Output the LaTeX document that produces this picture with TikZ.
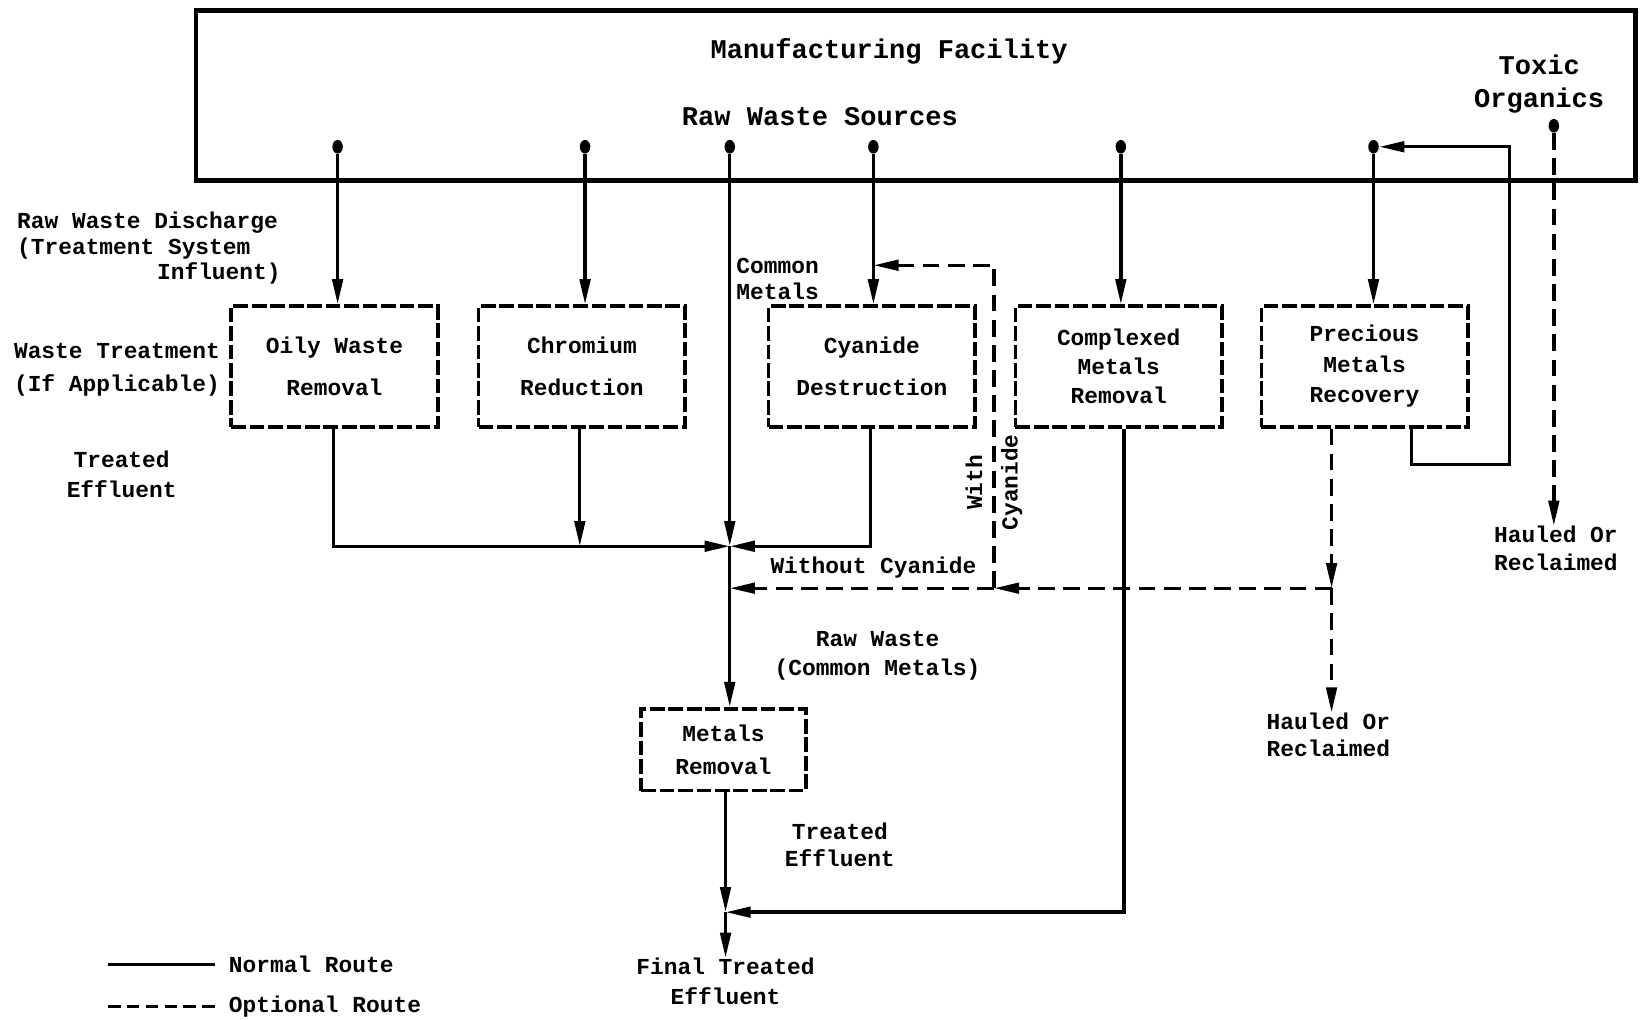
\documentclass[tikz,border=0pt]{standalone}
\usepackage{fontspec}
\setmainfont{Liberation Mono}
\usetikzlibrary{arrows.meta}
\newcommand\myfs[1]{\fontsize{10.9}{#1}\selectfont\bfseries}
\newcommand\mybig[1]{\fontsize{12.9}{#1}\selectfont\bfseries}
\tikzset{
  lw/.style={line width=1.6pt},
  tipped/.style={-{Triangle[length=12pt,width=5pt]}},
  normalroute/.style={lw, tipped},
  optroute/.style={lw, dash pattern=on 8pt off 4pt, tipped},
  procbox/.style={draw, line width=1.7pt, dash pattern=on 7pt off 1.8pt,
    minimum width=98.5pt, minimum height=57.5pt, align=center, inner sep=0pt},
  lbl/.style={inner sep=0pt, align=center, font=\myfs{13}},
  biglbl/.style={inner sep=0pt, align=center, font=\mybig{16}},
  srcdot/.style={ellipse, fill, inner sep=0pt, minimum width=5pt, minimum height=6.5pt},
}
\usetikzlibrary{shapes.geometric}
\begin{document}
\begin{tikzpicture}[x=0.5pt,y=-0.5pt]
\useasboundingbox (0,0) rectangle (1568,972);

% facility
\node[draw, line width=2.2pt, minimum width=686.5pt, minimum height=81pt, inner sep=0pt] (facility) at (873.5,91) {};
\node[biglbl] (mf) at (848,49) {Manufacturing Facility};
\node[biglbl] (rws) at (782,111) {Raw Waste Sources};
\node[biglbl, font=\mybig{16}] (tox) at (1468,80) {Toxic\\Organics};

% source dots
\node[srcdot] (d1) at (322,140) {};
\node[srcdot] (d2) at (558,140) {};
\node[srcdot] (d3) at (696,140) {};
\node[srcdot] (d4) at (833,140) {};
\node[srcdot] (d5) at (1069,140) {};
\node[srcdot] (d6) at (1310,140) {};
\node[srcdot] (d7) at (1482,120) {};

% boxes
\node[procbox, font=\myfs{20}] (oily) at (319,349.5) {Oily Waste\\Removal};
\node[procbox, font=\myfs{20}] (chrom) at (555,349.5) {Chromium\\Reduction};
\node[procbox, font=\myfs{20}] (cyan) at (831.5,349.5) {Cyanide\\Destruction};
\node[procbox, font=\myfs{14}] (cplx) at (1067,349.5) {Complexed\\Metals\\Removal};
\node[procbox, font=\myfs{14.5}] (prec) at (1301.5,349.5) {Precious\\Metals\\Recovery};
\node[procbox, font=\myfs{15.5}, minimum width=78.5pt, minimum height=39pt] (metals) at (690,715) {Metals\\Removal};

% side labels
\node[lbl, anchor=west] (rwd1) at (16,212) {Raw Waste Discharge};
\node[lbl, anchor=west] (rwd2) at (16,237) {(Treatment System};
\node[lbl, anchor=east] (rwd3) at (268,261) {Influent)};
\node[lbl, anchor=west, align=left, font=\myfs{15.5}] (wt) at (13,352.5) {Waste Treatment\\(If Applicable)};
\node[lbl, font=\myfs{14.5}] (te1) at (116,452.5) {Treated\\Effluent};
\node[lbl, anchor=west, align=left, font=\myfs{12}] (cm) at (702,266) {Common\\Metals};
\node[lbl] (woc) at (833,541) {Without Cyanide};
\node[lbl, rotate=90, font=\myfs{17}] (wc) at (948,460) {With\\Cyanide};
\node[lbl, font=\myfs{13.5}] (rwcm) at (837,625.5) {Raw Waste\\(Common Metals)};
\node[lbl, font=\myfs{13}] (te2) at (801,806) {Treated\\Effluent};
\node[lbl, font=\myfs{14}] (final) at (692,936) {Final Treated\\Effluent};
\node[lbl, font=\myfs{13}] (haul1) at (1267,701) {Hauled Or\\Reclaimed};
\node[lbl, font=\myfs{13}] (haul2) at (1484,523) {Hauled Or\\Reclaimed};

% junction coordinates
\coordinate (j1) at (696,521);
\coordinate (j2) at (696,561);
\coordinate (j3) at (692,870);
\coordinate (o1) at (318,521);
\coordinate (c1) at (553,521);
\coordinate (cy1) at (830,521);
\coordinate (cx1) at (1072,870);
\coordinate (p1) at (1270,561);
\coordinate (w1) at (948,561);
\coordinate (w2) at (948,253);
\coordinate (r1) at (1346,443);
\coordinate (r2) at (1440,443);

% source lines
\draw[normalroute] (d1) -- (d1 |- oily.north);
\draw[normalroute] (d2) -- (d2 |- chrom.north);
\draw[normalroute] (d4) -- (d4 |- cyan.north);
\draw[normalroute] (d5) -- (d5 |- cplx.north);
\draw[normalroute] (d6) -- (d6 |- prec.north);
\draw[normalroute] (d3) -- (j1);
\draw[lw] (j1) -- (j2);
\draw[normalroute] (j2) -- (j2 |- metals.north);

% treated effluent collection
\draw[normalroute] (oily.south -| o1) |- (j1);
\draw[normalroute] (chrom.south -| c1) -- (c1);
\draw[normalroute] (cyan.south -| cy1) |- (j1);

% complexed return
\draw[normalroute] (cplx.south -| cx1) |- (j3);
\draw[normalroute] (metals.south -| j3) -- (j3);
\draw[normalroute] (j3) -- (j3 |- final.north);

% precious
\draw[optroute] (prec.south -| p1) -- (p1);
\draw[optroute] (p1) -- (p1 |- haul1.north);
\draw[optroute] (p1) -- (w1);
\draw[optroute] (w1) -- (j2);
\draw[optroute] (w1) |- (d4 |- w2);
\draw[normalroute] (prec.south -| r1) |- (r2) |- (d6);

% toxic organics
\draw[optroute] (d7) -- (d7 |- haul2.north);

% legend
\coordinate (lg1) at (103,920);
\coordinate (lg2) at (205,920);
\coordinate (lg3) at (103,960);
\coordinate (lg4) at (210,960);
\draw[lw] (lg1) -- (lg2);
\draw[lw, dash pattern=on 6pt off 3pt] (lg3) -- (lg4);
\node[lbl, anchor=west] (nr) at (218,920) {Normal Route};
\node[lbl, anchor=west] (or) at (218,960) {Optional Route};
\end{tikzpicture}
\end{document}
